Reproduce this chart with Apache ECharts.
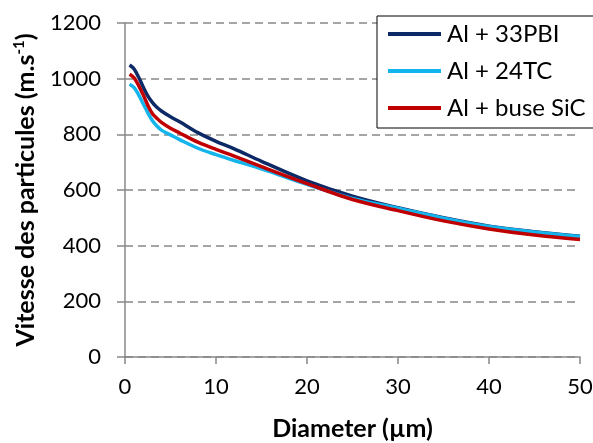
<!DOCTYPE html>
<html>
<head>
<meta charset="utf-8">
<script src="https://cdn.jsdelivr.net/npm/echarts@6/dist/echarts.min.js"></script>
<style>html,body{margin:0;padding:0;background:#fff}#c{width:593px;height:443px}</style>
</head>
<body>
<div id="c"></div>
<script>
var diameters = [0.5, 1, 1.5, 2, 2.5, 3, 3.5, 4, 5, 6, 8, 10, 12, 15, 20, 25, 30, 35, 40, 45, 50];
var seriesNames = ['Al + 33PBI', 'Al + 24TC', 'Al + buse SiC'];
var v33PBI = [1049, 1035, 1005, 970, 938, 915, 897, 884, 863, 845, 806, 775, 748, 703, 633, 578, 536, 500, 470, 450, 434];
var v24TC  = [980, 968, 942, 910, 878, 850, 830, 815, 798, 781, 750, 727, 706, 676, 620, 570, 535, 499, 469, 449, 433];
var vSiC   = [1016, 1003, 975, 942, 905, 875, 858, 843, 822, 805, 772, 746, 722, 684, 623, 566, 526, 489, 460, 438, 422];
var xTicks = [0, 10, 20, 30, 40, 50];
var yTicks = [0, 200, 400, 600, 800, 1000, 1200];
var colors = ['#0d2a66', '#14b4ec', '#c00000'];

function pairs(vals){ return diameters.map(function(d,i){ return [d, vals[i]]; }); }
var allVals = [v33PBI, v24TC, vSiC];
var font = 'Lato';
var chart = echarts.init(document.getElementById('c'), null, {renderer:'canvas'});
chart.setOption({
  animation: false,
  backgroundColor: '#fff',
  grid: {left: 125, right: 13, top: 23, bottom: 86, containLabel: false, outerBoundsMode: 'none'},
  legend: {
    orient: 'vertical', left: 377, top: 16,
    backgroundColor: '#fff', borderColor: '#000', borderWidth: 1,
    padding: [5, 20, 7, 11],
    itemWidth: 53, itemHeight: 4, itemGap: 11, icon: 'rect',
    textStyle: {fontFamily: font, fontSize: 24, color: '#000', lineHeight: 26, padding:[0,0,0,1]},
    data: seriesNames
  },
  xAxis: {
    type: 'value', min: xTicks[0], max: xTicks[xTicks.length-1], interval: 10,
    name: 'Diameter (µm)', nameLocation: 'middle', nameGap: 59,
    nameTextStyle: {fontFamily: font, fontSize: 25, fontWeight: 'bold', color: '#000'},
    axisLine: {lineStyle: {color: '#888', width: 1.5}},
    axisTick: {show: true, length: 7, lineStyle: {color: '#888', width: 1.5}},
    axisLabel: {fontFamily: font, fontSize: 22, color: '#000', margin: 19},
    splitLine: {show: false}
  },
  yAxis: {
    type: 'value', min: yTicks[0], max: yTicks[yTicks.length-1], interval: 200,
    name: '{n|Vitesse des particules (m.s}{s|-1}{n|)}', nameLocation: 'middle', nameGap: 86, nameRotate: 90,
    nameTextStyle: {rich: {
      n: {fontFamily: font, fontSize: 25, fontWeight: 'bold', color: '#000'},
      s: {fontFamily: font, fontSize: 15, fontWeight: 'bold', color: '#000', verticalAlign: 'top', padding: [0,0,12,0]}
    }},
    axisLine: {show: true, lineStyle: {color: '#888', width: 1.5}},
    axisTick: {show: true, length: 8, lineStyle: {color: '#888', width: 1.5}},
    axisLabel: {fontFamily: font, fontSize: 22, color: '#000', margin: 24, formatter: function(v){ return String(v); }},
    splitLine: {show: true, lineStyle: {color: '#888', width: 1.5, type: [8, 5]}}
  },
  series: seriesNames.map(function(n, i){
    return {
      name: n, type: 'line', smooth: 0.35, showSymbol: false, symbol: 'none',
      data: pairs(allVals[i]),
      lineStyle: {color: colors[i], width: 3.5},
      itemStyle: {color: colors[i]}
    };
  })
});
</script>
</body>
</html>
